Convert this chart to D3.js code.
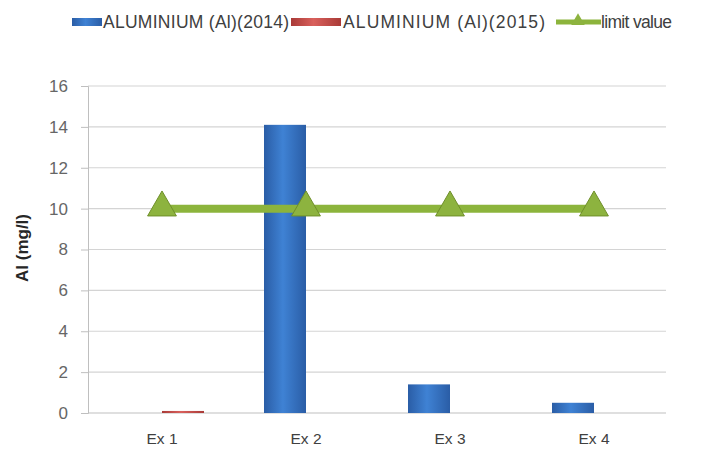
<!DOCTYPE html>
<html><head><meta charset="utf-8">
<script src="https://cdn.jsdelivr.net/npm/d3@7"></script>
<style>body{margin:0;background:#fff}svg{display:block}</style>
</head><body>
<script>
const categories = ["Ex 1","Ex 2","Ex 3","Ex 4"];
const al2014 = [0, 14.1, 1.4, 0.5];
const al2015 = [0.1, 0, 0, 0];
const limitValue = [10, 10, 10, 10];
const yTicks = [0,2,4,6,8,10,12,14,16];
const seriesNames = ["ALUMINIUM (Al)(2014)","ALUMINIUM (Al)(2015)","limit value"];

const W=705,H=452;
const svg=d3.select("body").append("svg").attr("width",W).attr("height",H);
const font="'Liberation Sans',sans-serif";
const defs=svg.append("defs");
function grad(id,dark,light){
  const g=defs.append("linearGradient").attr("id",id).attr("x1","0").attr("x2","1").attr("y1","0").attr("y2","0");
  g.append("stop").attr("offset","0").attr("stop-color",dark);
  g.append("stop").attr("offset","0.45").attr("stop-color",light);
  g.append("stop").attr("offset","1").attr("stop-color",dark);
}
grad("gBlue","#2a5da6","#3f82d4");
grad("gRed","#a93a37","#d9605c");

const x=d3.scaleBand().domain(categories).range([90,666]);
const y=d3.scaleLinear().domain([0,16]).range([413,86]);
const bw=42;

// gridlines
svg.append("g").selectAll("line").data(yTicks.filter(d=>d>0)).join("line")
  .attr("x1",88).attr("x2",666).attr("y1",d=>y(d)).attr("y2",d=>y(d))
  .attr("stroke","#d4d4d4").attr("stroke-width",1.2);

// y axis
const ya=svg.append("g").attr("transform","translate(88,0)").call(d3.axisLeft(y).tickValues(yTicks).tickSize(7).tickPadding(13));
ya.select(".domain").attr("stroke","#bfbfbf");
ya.selectAll(".tick line").attr("stroke","#bfbfbf");
ya.selectAll("text").attr("font-family",font).attr("font-size",17).attr("fill","#666");

// x axis
const xa=svg.append("g").attr("transform","translate(0,413)").call(d3.axisBottom(x).tickSize(0).tickPadding(20));
xa.select(".domain").attr("stroke","#bfbfbf").attr("d","M88,0H666");
xa.selectAll("text").attr("font-family",font).attr("font-size",15.5).attr("fill","#404040");

const cx=d=>x(d)+x.bandwidth()/2;
// bars
svg.append("g").selectAll("rect").data(categories).join("rect")
  .attr("x",d=>cx(d)-bw).attr("width",bw)
  .attr("y",(d,i)=>y(al2014[i])).attr("height",(d,i)=>y(0)-y(al2014[i]))
  .attr("fill","url(#gBlue)");
svg.append("g").selectAll("rect").data(categories).join("rect")
  .attr("x",d=>cx(d)).attr("width",bw)
  .attr("y",(d,i)=>y(al2015[i])).attr("height",(d,i)=>y(0)-y(al2015[i]))
  .attr("fill","url(#gRed)");

// limit line
const line=d3.line().x((d,i)=>cx(categories[i])).y(d=>y(d));
svg.append("path").datum(limitValue).attr("d",line).attr("fill","none")
  .attr("stroke","#8cb43c").attr("stroke-width",8);
const tri=d3.symbol().type(d3.symbolTriangle).size(360);
svg.append("g").selectAll("path").data(limitValue).join("path")
  .attr("d",tri).attr("transform",(d,i)=>`translate(${cx(categories[i])},${y(d)-1})`)
  .attr("fill","#8db33f").attr("stroke","#6f8f2a").attr("stroke-width",1);

// y title
svg.append("text").attr("transform","translate(28,248) rotate(-90)").attr("text-anchor","middle")
  .attr("font-family",font).attr("font-weight","bold").attr("font-size",17).attr("fill","#262626")
  .text("Al (mg/l)");

// legend
const lg=svg.append("g").attr("font-family",font).attr("font-size",17.5).attr("fill","#404040");
lg.append("rect").attr("x",72).attr("y",18).attr("width",30).attr("height",8).attr("fill","url(#gBlue)");
lg.append("text").attr("x",103).attr("y",28).attr("textLength",186).text(seriesNames[0]);
lg.append("rect").attr("x",291).attr("y",18).attr("width",50).attr("height",8).attr("fill","url(#gRed)");
lg.append("text").attr("x",343).attr("y",28).attr("textLength",202).text(seriesNames[1]);
lg.append("line").attr("x1",556).attr("x2",601).attr("y1",22).attr("y2",22).attr("stroke","#8cb43c").attr("stroke-width",5);
lg.append("path").attr("d",d3.symbol().type(d3.symbolTriangle).size(80)).attr("transform","translate(578,21)").attr("fill","#8db33f");
lg.append("text").attr("x",601).attr("y",28).attr("textLength",71).text(seriesNames[2]);
</script>
</body></html>
